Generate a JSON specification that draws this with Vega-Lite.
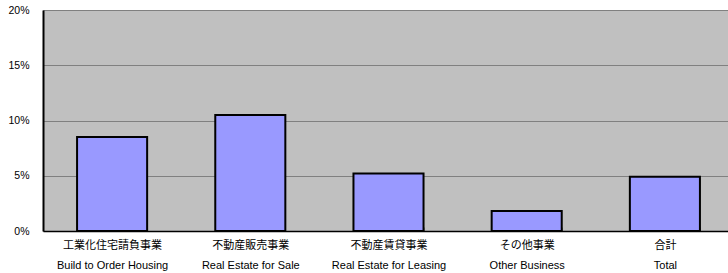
{
  "$schema": "https://vega.github.io/schema/vega-lite/v6.json",
  "width": 691,
  "height": 221,
  "autosize": {"type": "none"},
  "padding": {"left": 43, "top": 10, "right": 0, "bottom": 42},
  "background": "white",
  "config": {
    "view": {"fill": "#C0C0C0", "stroke": null},
    "font": "Liberation Sans, Noto Sans CJK JP"
  },
  "data": {
    "values": [
      {"cat": "工業化住宅請負事業|Build to Order Housing", "v": 0.085},
      {"cat": "不動産販売事業|Real Estate for Sale", "v": 0.105},
      {"cat": "不動産賃貸事業|Real Estate for Leasing", "v": 0.052},
      {"cat": "その他事業|Other Business", "v": 0.018},
      {"cat": "合計|Total", "v": 0.049}
    ]
  },
  "mark": {"type": "bar", "fill": "#9999FF", "stroke": "black", "strokeWidth": 2},
  "encoding": {
    "x": {
      "field": "cat", "type": "nominal", "sort": null,
      "scale": {"paddingInner": 0.493, "paddingOuter": 0.2465},
      "axis": {
        "title": null, "labelAngle": 0,
        "labelExpr": "split(datum.label, '|')",
        "labelFontSize": 11, "labelLineHeight": 20, "labelColor": "black",
        "labelPadding": 12, "labelBaseline": "top",
        "domainColor": "black", "domainWidth": 1.5,
        "tickBand": "extent", "tickColor": "#808080", "tickSize": -4,
        "labelFont": "Liberation Sans, Noto Sans CJK JP"
      }
    },
    "y": {
      "field": "v", "type": "quantitative",
      "scale": {"domain": [0, 0.2]},
      "axis": {
        "title": null, "format": "%", "values": [0, 0.05, 0.1, 0.15, 0.2],
        "labelFontSize": 10.5, "labelColor": "black", "labelPadding": 14,
        "tickSize": 0, "domainColor": "black", "domainWidth": 2,
        "gridColor": "#808080", "gridWidth": 1
      }
    }
  }
}
